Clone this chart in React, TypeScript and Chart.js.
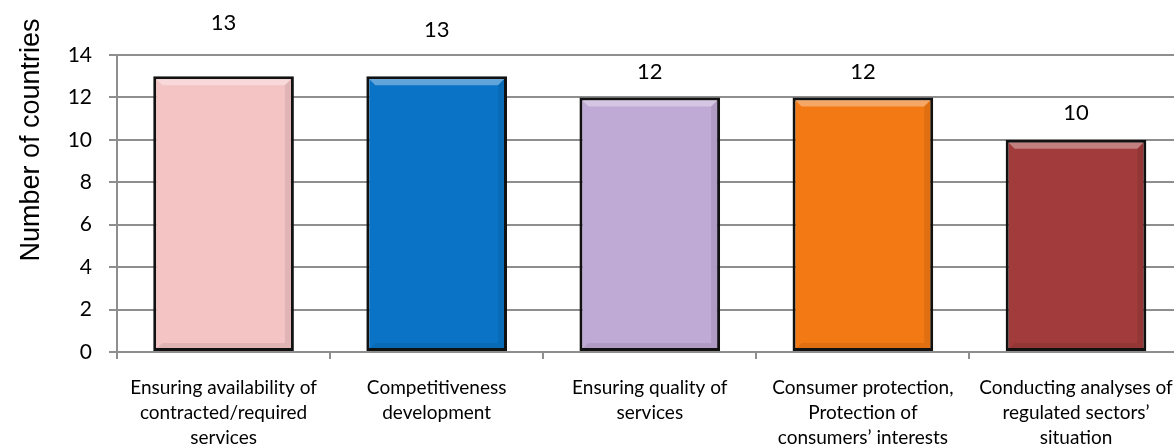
import React, { useEffect, useRef } from "react";
import { Chart, registerables } from "chart.js";

Chart.register(...registerables);

const categories: string[][] = [
  ["Ensuring availability of", "contracted/required", "services"],
  ["Competitiveness", "development"],
  ["Ensuring quality of", "services"],
  ["Consumer protection,", "Protection of", "consumers’ interests"],
  ["Conducting analyses of", "regulated sectors’", "situation"],
];
const values: number[] = [13, 13, 12, 12, 10];
const yMin = 0;
const yMax = 14;
const yStep = 2;
const axisTitle = "Number of countries";

const barColors = ["#F4C3C4", "#0A73C6", "#BFA9D5", "#F27913", "#A23B3B"];
const labelLift = [53, 46, 26, 26, 27];

const GRID = "#8E8E8E";
const FONT = "Lato, 'Open Sans', sans-serif";

const bevelPlugin = {
  id: "bevel",
  afterDatasetsDraw(chart: any) {
    const ctx = chart.ctx;
    const meta = chart.getDatasetMeta(0);
    meta.data.forEach((bar: any) => {
      const half = bar.width / 2;
      const l = bar.x - half + 3;
      const r = bar.x + half - 3;
      const t = bar.y + 3;
      const b = bar.base - 2;
      const d = 6;
      ctx.save();
      ctx.fillStyle = "rgba(255,255,255,0.35)";
      ctx.beginPath();
      ctx.moveTo(l, t);
      ctx.lineTo(r, t);
      ctx.lineTo(r - d, t + d);
      ctx.lineTo(l + d, t + d);
      ctx.closePath();
      ctx.fill();
      ctx.fillStyle = "rgba(0,0,0,0.08)";
      ctx.beginPath();
      ctx.moveTo(r, t);
      ctx.lineTo(r, b);
      ctx.lineTo(r - d, b - d);
      ctx.lineTo(r - d, t + d);
      ctx.closePath();
      ctx.fill();
      ctx.beginPath();
      ctx.moveTo(l, b);
      ctx.lineTo(r, b);
      ctx.lineTo(r - d, b - d);
      ctx.lineTo(l + d, b - d);
      ctx.closePath();
      ctx.fill();
      ctx.restore();
    });
  },
};

const labelPlugin = {
  id: "valueLabels",
  afterDraw(chart: any) {
    const ctx = chart.ctx;
    const meta = chart.getDatasetMeta(0);
    ctx.save();
    ctx.font = `22px ${FONT}`;
    ctx.fillStyle = "#000";
    ctx.textAlign = "center";
    ctx.textBaseline = "middle";
    meta.data.forEach((bar: any, i: number) => {
      ctx.fillText(String(values[i]), bar.x, bar.y - labelLift[i]);
    });
    // rotated axis title
    const ca = chart.chartArea;
    ctx.translate(32, ca.top + 85);
    ctx.rotate(-Math.PI / 2);
    ctx.font = `27px "Liberation Sans", Arial, sans-serif`;
    ctx.textBaseline = "middle";
    ctx.fillText(axisTitle, 0, 0);
    ctx.restore();
  },
};

export default function App() {
  const ref = useRef<HTMLCanvasElement | null>(null);
  useEffect(() => {
    if (!ref.current) return;
    const chart = new Chart(ref.current, {
      type: "bar",
      data: {
        labels: categories,
        datasets: [
          {
            data: values,
            backgroundColor: barColors,
            borderColor: "#111111",
            borderWidth: 3,
            borderSkipped: false,
            barPercentage: 0.66,
            categoryPercentage: 1,
          },
        ],
      },
      options: {
        animation: false,
        responsive: false,
        maintainAspectRatio: false,
        layout: { padding: { top: 55, right: 3, left: 0, bottom: 0 } },
        plugins: {
          legend: { display: false },
          tooltip: { enabled: false },
          title: { display: false },
        },
        scales: {
          x: {
            grid: {
              display: true,
              drawOnChartArea: false,
              drawTicks: true,
              tickLength: 7,
              color: GRID,
              lineWidth: 2,
            },
            border: { color: GRID, width: 2 },
            ticks: {
              color: "#000",
              font: { family: FONT, size: 19, lineHeight: 1.3 },
              padding: 17,
              maxRotation: 0,
              minRotation: 0,
              autoSkip: false,
            },
            afterFit: (s: any) => {
              s.height = 96;
            },
          },
          y: {
            min: yMin,
            max: yMax,
            ticks: {
              stepSize: yStep,
              color: "#000",
              font: { family: FONT, size: 21 },
              padding: 17,
            },
            grid: {
              color: GRID,
              lineWidth: 2,
              tickLength: 8,
            },
            border: { color: GRID, width: 2 },
            afterFit: (s: any) => {
              s.width = 117;
            },
          },
        },
      },
      plugins: [bevelPlugin, labelPlugin],
    });
    return () => chart.destroy();
  }, []);

  return (
    <div
      style={{
        position: "fixed",
        left: 0,
        top: 0,
        width: 1174,
        height: 448,
        overflow: "hidden",
        background: "#fff",
      }}
    >
      <canvas ref={ref} width={1190} height={448} style={{ width: 1190, height: 448 }} />
    </div>
  );
}
